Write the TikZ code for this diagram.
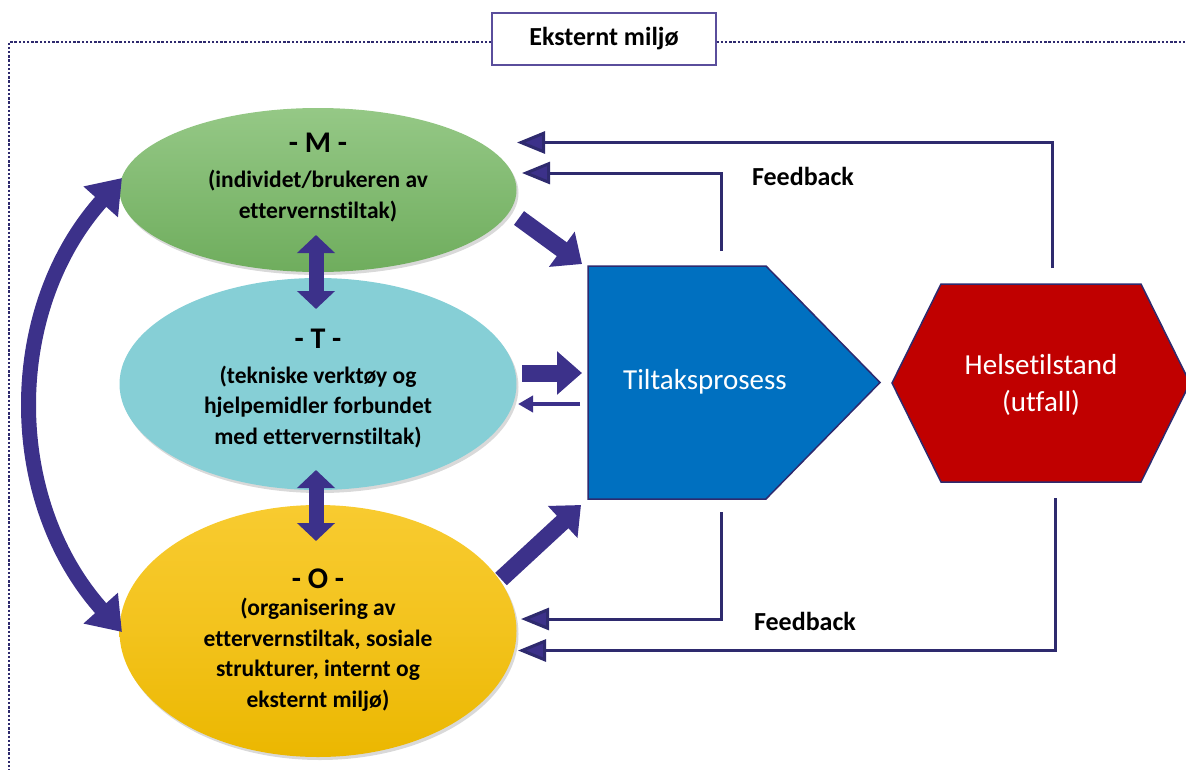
\documentclass[tikz,border=0pt]{standalone}
\usepackage{fontspec}
\setmainfont{Carlito}[Ligatures={NoCommon}]
\usetikzlibrary{shapes.geometric,arrows.meta,shadows}
\definecolor{navy}{HTML}{2E2A6E}
\definecolor{arrowfill}{HTML}{3C318A}
\definecolor{boxline}{HTML}{5A4E9C}
\definecolor{greentop}{HTML}{95C886}
\definecolor{greenbot}{HTML}{6FAD5D}
\definecolor{cyanf}{HTML}{86CFD6}
\definecolor{yeltop}{HTML}{F8CB30}
\definecolor{yelbot}{HTML}{EBB700}
\definecolor{procblue}{HTML}{0070C0}
\definecolor{outred}{HTML}{C00000}
\tikzset{
  border/.style={draw=navy, line width=2.6pt, dash pattern=on 2.4pt off 1.8pt},
  titlebox/.style={draw=boxline, line width=1.2pt, fill=white, minimum width=224pt, minimum height=52pt, font=\bfseries\fontsize{26}{30}\selectfont},
  oval/.style={ellipse, minimum width=397pt, drop shadow={shadow xshift=2pt, shadow yshift=-3pt, opacity=0.3}},
  head/.style={font=\bfseries\fontsize{30}{34}\selectfont},
  body/.style={align=center, font=\bfseries\fontsize{23.5}{30.5}\selectfont},
  shapeline/.style={draw=navy, line width=1.5pt},
  whitetext/.style={text=white, align=center, font=\fontsize{29}{37}\selectfont},
  fb/.style={draw=navy, line width=3pt, -{Triangle[length=28pt,width=22pt,fill=arrowfill]}},
  thinarrow/.style={draw=arrowfill, line width=4pt, -{Triangle[length=15pt,width=16pt]}},
  blockarrow/.style={draw=arrowfill, line width=17pt, -{Triangle[length=25pt,width=42pt]}},
  vdouble/.style={draw=arrowfill, line width=15pt, {Triangle[length=18pt,width=37pt]}-{Triangle[length=18pt,width=37pt]}},
  curvedouble/.style={draw=arrowfill, line width=15pt, {Triangle[length=32pt,width=44pt]}-{Triangle[length=32pt,width=44pt]}},
  fblabel/.style={font=\bfseries\fontsize{26}{30}\selectfont}
}
\begin{document}
\begin{tikzpicture}[x=1pt,y=-1pt]
\useasboundingbox (0,0) rectangle (1186,769);
% external environment border
\node[titlebox] (title) at (604,39) {Eksternt miljø};
\coordinate (bl) at (9,42);
\coordinate (bb) at (9,775);
\coordinate (br) at (1192,42);
\draw[border] (title.west |- bl) -- (bl) -- (bb);
\draw[border] (title.east |- br) -- (br);
% ellipses
\node[oval, minimum height=164pt, top color=greentop, bottom color=greenbot] (M) at (318,190) {};
\node[oval, minimum height=212pt, fill=cyanf] (T) at (318,384) {};
\node[oval, minimum height=252pt, top color=yeltop, bottom color=yelbot, middle color=yelbot!40!yeltop] (O) at (318,631) {};
% ellipse texts
\node[head] (Mh) at (318,143) {- M -};
\node[body] (Mb) at (318,196) {(individet/brukeren av\\ettervernstiltak)};
\node[head] (Th) at (318,339) {- T -};
\node[body] (Tb) at (318,407) {(tekniske verktøy og\\hjelpemidler forbundet\\med ettervernstiltak)};
\node[head] (Oh) at (318,579) {- O -};
\node[body] (Ob) at (318,655) {(organisering av\\ettervernstiltak, sosiale\\strukturer, internt og\\eksternt miljø)};
% process pentagon
\coordinate (p1) at (588,266);
\coordinate (p2) at (766,266);
\coordinate (p3) at (880,382.5);
\coordinate (p4) at (766,499);
\coordinate (p5) at (588,499);
\fill[procblue] (p1) -- (p2) -- (p3) -- (p4) -- (p5) -- cycle;
\draw[shapeline] (p1) -- (p2) -- (p3) -- (p4) -- (p5) -- cycle;
\node[whitetext] (P) at (705,382) {Tiltaksprosess};
% outcome hexagon
\coordinate (h1) at (941,284);
\coordinate (h2) at (1141,284);
\coordinate (h3) at (1190,383);
\coordinate (h4) at (1141,482);
\coordinate (h5) at (941,482);
\coordinate (h6) at (892,383);
\fill[outred] (h1) -- (h2) -- (h3) -- (h4) -- (h5) -- (h6) -- cycle;
\draw[shapeline] (h1) -- (h2) -- (h3) -- (h4) -- (h5) -- (h6) -- cycle;
\node[whitetext] (H) at (1041,385) {Helsetilstand\\(utfall)};
% feedback connectors
\coordinate (fa1) at (1052,268); \coordinate (fa2) at (517,142.5);
\coordinate (fb1) at (721,251);  \coordinate (fb2) at (522,173);
\coordinate (fc1) at (721,512);  \coordinate (fc2) at (521,619);
\coordinate (fd1) at (1055,498); \coordinate (fd2) at (518,650.5);
\draw[fb] (fa1) |- (fa2);
\draw[fb] (fb1) |- (fb2);
\draw[fb] (fc1) |- (fc2);
\draw[fb] (fd1) |- (fd2);
\node[fblabel] (fbt) at (803,176) {Feedback};
\node[fblabel] (fbb) at (805,621) {Feedback};
% block arrows into process
\coordinate (a1) at (519,218); \coordinate (a2) at (582,264);
\coordinate (b1) at (522,373); \coordinate (b2) at (582,373);
\coordinate (c1) at (580,404); \coordinate (c2) at (518,404);
\coordinate (d1) at (501,579); \coordinate (d2) at (581,505);
\draw[blockarrow] (a1) -- (a2);
\draw[blockarrow] (b1) -- (b2);
\draw[thinarrow] (c1) -- (c2);
\draw[blockarrow] (d1) -- (d2);
% double arrows between ellipses
\coordinate (v1) at (316,235); \coordinate (v2) at (316,309);
\coordinate (v3) at (316,470); \coordinate (v4) at (316,541);
\draw[vdouble] (v1) -- (v2);
\draw[vdouble] (v3) -- (v4);
% curved double arrow M <-> O
\coordinate (cm) at (122,178); \coordinate (co) at (122,632);
\draw[curvedouble] (cm) .. controls (4,310) and (4,500) .. (co);
\end{tikzpicture}
\end{document}
